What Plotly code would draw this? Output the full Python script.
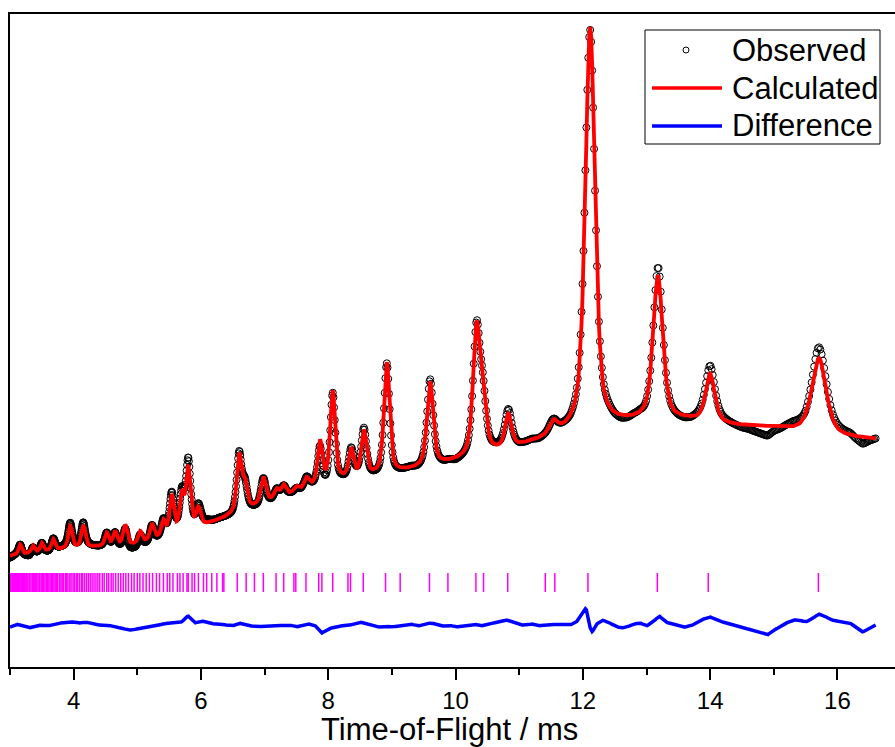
import numpy as np
import plotly.graph_objects as go

# ---- refined profile: reflection groups (centre / ms, height / counts, FWHM / ms)
peak_tof = [3.16, 3.36, 3.50, 3.68, 3.945, 4.15, 4.52, 4.65, 4.81, 5.045,
            5.23, 5.41, 5.54, 5.70, 5.80, 5.96, 6.60, 6.69, 6.98, 7.19,
            7.30, 7.50, 7.66, 7.87, 8.07, 8.36, 8.56, 8.92, 9.60, 10.33,
            10.43, 10.83, 11.54, 12.115, 13.18, 14.00, 15.71]
peak_height = [100, 70, 85, 110, 220, 220, 130, 140, 200, 120,
               160, 150, 380, 350, 600, 180, 560, 250, 260, 90,
               110, 50, 100, 420, 890, 280, 450, 1110, 840, 1240,
               500, 330, 120, 4000, 1440, 480, 760]
peak_fwhm = [0.06, 0.06, 0.06, 0.065, 0.07, 0.07, 0.07, 0.07, 0.075, 0.075,
             0.075, 0.075, 0.08, 0.08, 0.085, 0.085, 0.09, 0.09, 0.095, 0.09,
             0.09, 0.09, 0.09, 0.085, 0.09, 0.09, 0.095, 0.105, 0.115, 0.13,
             0.12, 0.12, 0.15, 0.18, 0.18, 0.17, 0.27]
peak_eta = 0.55  # Lorentzian fraction of the pseudo-Voigt

# background knots (ms, counts)
bg_tof = [3.0, 4.0, 5.0, 6.0, 7.0, 8.0, 9.0, 10.0, 11.0, 12.0, 13.0, 13.7, 14.4, 15.0, 16.0, 16.7]
bg_counts = [40, 120, 150, 330, 560, 780, 860, 980, 1130, 1310, 1390, 1390, 1340, 1320, 1230, 1200]

# observed - calculated residual, sampled along the pattern (ms, counts)
res_tof = [3.0, 3.1, 3.2, 3.3, 3.4, 3.5, 3.6, 3.7, 3.8, 3.9,
           4.0, 4.1, 4.2, 4.3, 4.4, 4.5, 4.6, 4.7, 4.8, 4.9,
           5.0, 5.1, 5.2, 5.3, 5.4, 5.5, 5.6, 5.7, 5.75, 5.8, 5.9,
           6.0, 6.1, 6.2, 6.3, 6.4, 6.5, 6.6, 6.7, 6.8, 6.9,
           7.0, 7.1, 7.2, 7.3, 7.4, 7.5, 7.6, 7.7, 7.8, 7.85, 7.9,
           8.0, 8.1, 8.2, 8.3, 8.4, 8.5, 8.6, 8.7, 8.8, 8.9,
           9.0, 9.1, 9.2, 9.3, 9.4, 9.5, 9.6, 9.7, 9.8, 9.9,
           10.0, 10.1, 10.2, 10.3, 10.4, 10.5, 10.6, 10.7, 10.8, 10.9,
           11.0, 11.1, 11.2, 11.3, 11.4, 11.5, 11.6, 11.7, 11.8, 11.9,
           12.0, 12.05, 12.1, 12.15, 12.2, 12.3, 12.4, 12.5, 12.6, 12.7, 12.8, 12.9,
           13.0, 13.1, 13.2, 13.3, 13.4, 13.5, 13.6, 13.7, 13.8, 13.9,
           14.0, 14.1, 14.2, 14.3, 14.4, 14.5, 14.6, 14.7, 14.8, 14.9,
           15.0, 15.1, 15.2, 15.3, 15.4, 15.5, 15.6, 15.7, 15.8, 15.9,
           16.0, 16.1, 16.2, 16.3, 16.4, 16.5, 16.6]
res_counts = [-20, 10, -10, -30, -10, 0, -10, 10, 20, 30,
              30, 20, 30, 10, 0, 0, -10, -20, -40, -50,
              -40, -30, -20, -10, 10, 20, 30, 30, 70, 90, 20,
              40, 30, 10, 10, 0, -10, 20, 0, -10, -20,
              -10, -10, 0, -10, 0, -20, 0, 10, -10, -50, -80,
              -40, -20, -10, -10, 10, 30, 10, -10, -20, -10,
              -20, -10, 0, 10, -10, 0, 20, 10, -10, 0,
              -20, -10, 0, 10, -10, 10, 20, 30, 50, 30,
              0, 0, 10, -10, 0, 10, 0, 10, 0, 30,
              130, 170, -10, -70, 0, 50, 30, -10, -30, -20, 10, 20,
              -10, 30, 90, 30, 10, -10, -20, -10, 30, 60,
              80, 50, 30, 10, -10, -30, -40, -60, -80, -100,
              -50, -20, 20, 50, 50, 30, 60, 110, 90, 50,
              40, 30, 20, -30, -70, -30, 0]
diff_offset = -650

# reflection positions (ms)
hkl_tof = [3.01, 3.03, 3.04, 3.06, 3.07, 3.09, 3.10, 3.12, 3.13, 3.15, 3.17, 3.18,
           3.20, 3.21, 3.23, 3.25, 3.26, 3.28, 3.30, 3.31, 3.33, 3.35, 3.37, 3.38,
           3.40, 3.42, 3.44, 3.46, 3.47, 3.49, 3.51, 3.53, 3.55, 3.57, 3.59, 3.61,
           3.63, 3.65, 3.67, 3.69, 3.71, 3.73, 3.75, 3.78, 3.80, 3.82, 3.84, 3.87,
           3.89, 3.91, 3.94, 3.96, 3.99, 4.01, 4.04, 4.06, 4.09, 4.12, 4.14, 4.17,
           4.20, 4.23, 4.26, 4.29, 4.32, 4.35, 4.38, 4.41, 4.45, 4.48, 4.52, 4.55,
           4.59, 4.62, 4.66, 4.70, 4.74, 4.78, 4.82, 4.86, 4.91, 4.95, 5.00, 5.04,
           5.09, 5.14, 5.19, 5.24, 5.30, 5.35, 5.41, 5.47, 5.51, 5.56, 5.63, 5.67,
           5.72, 5.78, 5.80, 5.86, 5.90, 5.96, 6.04, 6.09, 6.17, 6.25, 6.34, 6.36,
           6.57, 6.71, 6.84, 6.98, 7.18, 7.30, 7.46, 7.49, 7.65, 7.85, 7.90, 8.07,
           8.31, 8.35, 8.55, 8.90, 9.13, 9.59, 9.88, 10.32, 10.44, 10.82, 11.41,
           11.56, 12.08, 13.17, 13.97, 15.70]
tick_top, tick_bottom = -130, -320

series_names = ["Observed", "Calculated", "Difference"]

# ---- build the pattern on the instrument's constant dt/t binning
tof = np.geomspace(3.0, 16.6, 1370)
calc = np.interp(tof, bg_tof, bg_counts).astype(float)
for p, h, w in zip(peak_tof, peak_height, peak_fwhm):
    u = (tof - p) / (w / 2)
    gauss = np.exp(-np.log(2) * u ** 2)
    lorentz = 1.0 / (1.0 + u ** 2)
    calc += h * (peak_eta * lorentz + (1 - peak_eta) * gauss)
resid = np.interp(tof, res_tof, res_counts)
obs = calc + resid
diff = obs - calc + diff_offset

tick_x, tick_y = [], []
for t in hkl_tof:
    tick_x += [t, t, None]
    tick_y += [tick_top, tick_bottom, None]

fig = go.Figure()
fig.add_trace(go.Scatter(
    x=tof, y=obs, mode="markers", name=series_names[0], showlegend=False,
    marker=dict(symbol="circle-open", size=7, color="black", line=dict(width=1, color="black")),
))
fig.add_trace(go.Scatter(
    x=tof, y=calc, mode="lines", name=series_names[1], showlegend=False,
    line=dict(color="#ff0000", width=3.8),
))
fig.add_trace(go.Scatter(
    x=tof, y=diff, mode="lines", name=series_names[2], showlegend=False,
    line=dict(color="#0000ff", width=3.5),
))
fig.add_trace(go.Scatter(
    x=tick_x, y=tick_y, mode="lines", showlegend=False,
    line=dict(color="#ff00ff", width=1.5),
))

# ---- key box in the upper-right corner (positions in pixels of the 895x747 canvas)
W, H = 895, 747
ML, MR, MT, MB = 10, 0, 14, 80
PW, PH = W - ML - MR, H - MT - MB


def px(x):
    return (x - ML) / PW


def py(y):
    return (H - MB - y) / PH


shapes = [dict(type="rect", xref="paper", yref="paper",
               x0=px(645), x1=px(880), y0=py(144), y1=py(30),
               line=dict(color="black", width=1), fillcolor="white", layer="above")]
annotations = []
row_y = [50, 88, 126]
for name, yy in zip(series_names, row_y):
    annotations.append(dict(xref="paper", yref="paper", x=px(730), y=py(yy),
                            xanchor="left", yanchor="middle", showarrow=False,
                            text=name, font=dict(size=31, family="Liberation Sans, Arial", color="black")))
shapes.append(dict(type="circle", xref="paper", yref="paper",
                   x0=px(683), x1=px(689), y0=py(row_y[0] + 3), y1=py(row_y[0] - 3),
                   line=dict(color="black", width=1), layer="above"))
for yy, col in zip(row_y[1:], ["#ff0000", "#0000ff"]):
    shapes.append(dict(type="line", xref="paper", yref="paper",
                       x0=px(652), x1=px(722), y0=py(yy), y1=py(yy),
                       line=dict(color=col, width=3.5), layer="above"))

# axis title placed as free text below the tick labels
annotations.append(dict(xref="paper", yref="paper", x=px(449), y=py(729),
                        xanchor="center", yanchor="middle", showarrow=False,
                        text="Time-of-Flight / ms",
                        font=dict(size=31, family="Liberation Sans, Arial", color="black")))

fig.update_layout(
    width=W, height=H,
    margin=dict(l=ML, r=MR, t=MT, b=MB),
    paper_bgcolor="white", plot_bgcolor="white",
    font=dict(family="Liberation Sans, Arial", color="black"),
    showlegend=False,
    shapes=shapes, annotations=annotations,
)
fig.update_xaxes(
    range=[3.0, 3.0 + PW / 63.65],
    showline=True, linecolor="black", linewidth=2, mirror=True,
    ticks="outside", ticklen=11, tickwidth=2, tickcolor="black",
    tick0=0, dtick=2,
    minor=dict(ticks="outside", ticklen=6, tickwidth=2, tickcolor="black", dtick=1, tick0=0),
    showgrid=False, zeroline=False, automargin=False,
    tickfont=dict(size=24, family="Liberation Sans Narrow, Arial Narrow, Liberation Sans"),
)
fig.update_yaxes(
    range=[-1070, 5460],
    showline=True, linecolor="black", linewidth=2, mirror=False,
    ticks="", showticklabels=False, showgrid=False, zeroline=False,
)

fig.write_html("out.html")
